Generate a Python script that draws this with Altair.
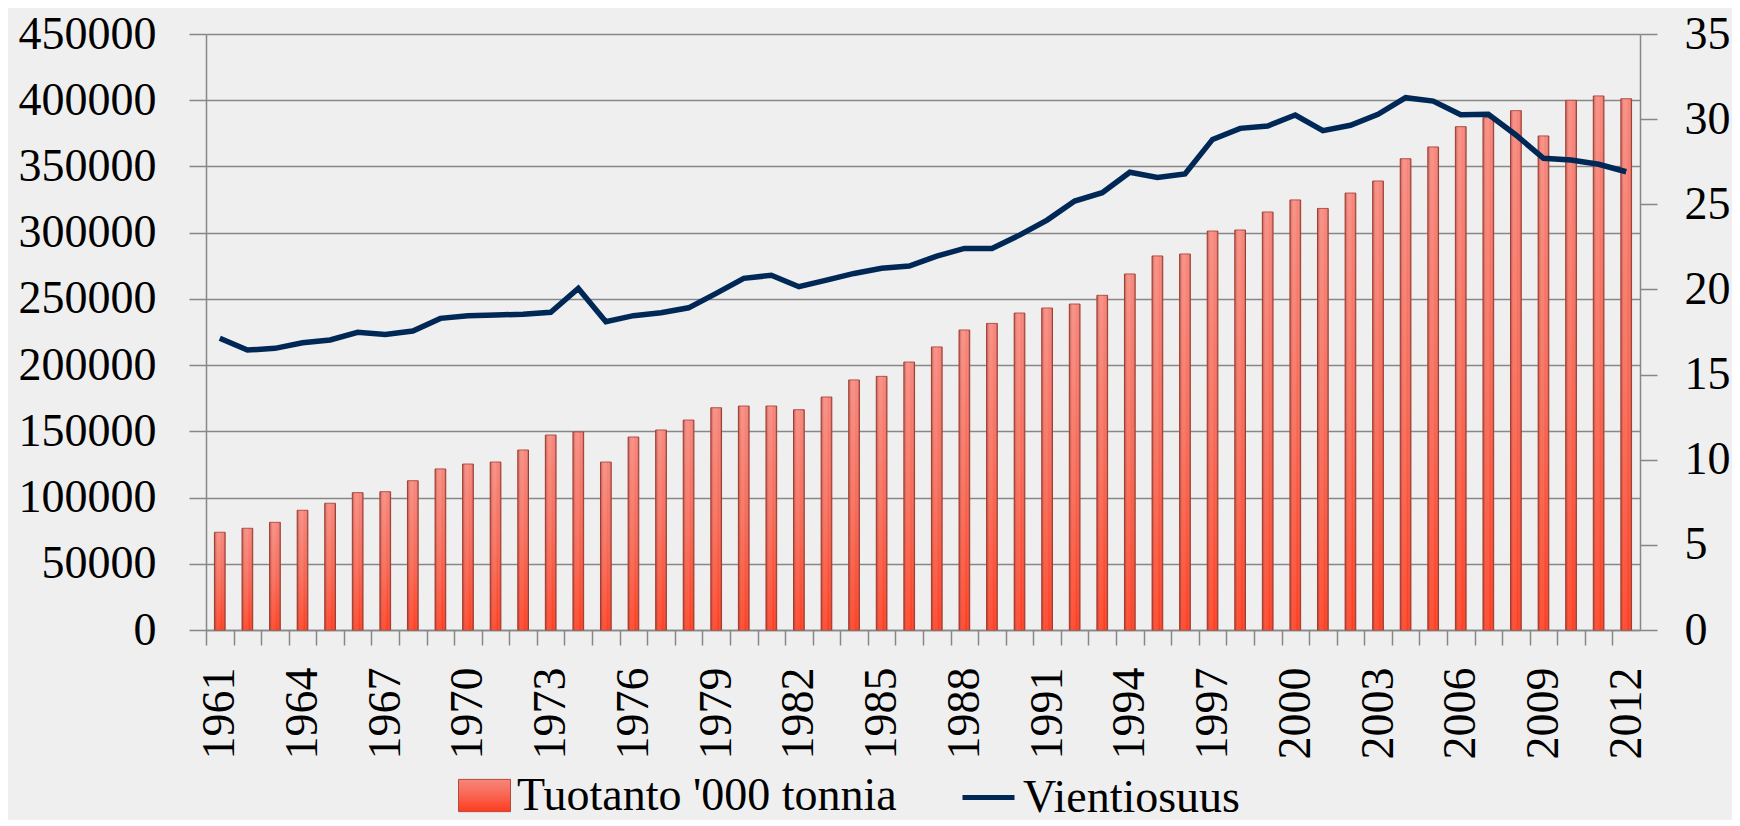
import altair as alt
import pandas as pd

# ---- data ----
years = list(range(1961, 2013))
tuotanto = [73800, 76800, 81300, 90400, 95700, 103700, 104400, 112700, 121600, 125300,
            126800, 135900, 147200, 149500, 126800, 145700, 151000, 158500, 167800, 169100,
            169100, 166300, 175900, 188800, 191500, 202300, 213700, 226500, 231500, 239300,
            243100, 246100, 252700, 268800, 282400, 283900, 301200, 302000, 315600, 324700,
            318300, 329900, 339000, 355800, 364700, 380000, 386800, 392100, 373000, 399900,
            403200, 401100]
vientiosuus = [17.13, 16.44, 16.54, 16.87, 17.03, 17.48, 17.36, 17.56, 18.30, 18.46,
               18.50, 18.54, 18.66, 20.06, 18.10, 18.46, 18.63, 18.92, 19.77, 20.65,
               20.83, 20.16, 20.55, 20.94, 21.24, 21.37, 21.96, 22.41, 22.41, 23.19,
               24.07, 25.19, 25.68, 26.88, 26.58, 26.78, 28.81, 29.46, 29.60, 30.24,
               29.32, 29.64, 30.28, 31.26, 31.06, 30.26, 30.28, 29.07, 27.70, 27.60,
               27.35, 26.91]
left_ticks = [0, 50000, 100000, 150000, 200000, 250000, 300000, 350000, 400000, 450000]
right_ticks = [0, 5, 10, 15, 20, 25, 30, 35]
bar_label = "Tuotanto '000 tonnia"
line_label = "Vientiosuus"

df = pd.DataFrame({
    "vuosi": years,
    "tuotanto": tuotanto,
    "vientiosuus": vientiosuus,
    "s1": [bar_label] * len(years),
    "s2": [line_label] * len(years),
})

FONT = "Liberation Serif"
FS = 46
GRID = "#878787"
W, H = 1434, 596
STEP = W / len(years)

x_scale = alt.Scale(paddingInner=0.61, paddingOuter=0.305)
x_axis = alt.Axis(
    title=None,
    labelExpr="(datum.value - 1961) % 3 == 0 ? datum.label : ''",
    labelAngle=270, labelOverlap=False,
    labelFont=FONT, labelFontSize=FS, labelColor="black", labelPadding=22,
    tickSize=15, tickColor=GRID, tickWidth=1.5,
    domainColor=GRID, domainWidth=1.5,
    tickOffset=-STEP / 2, labelOffset=STEP / 2,
    grid=False,
)
left_axis = alt.Axis(
    title=None, values=left_ticks, format="d", orient="left",
    grid=True, gridColor=GRID, gridWidth=1.5,
    domainColor=GRID, domainWidth=1.5, tickColor=GRID, tickWidth=1.5, tickSize=17,
    labelFont=FONT, labelFontSize=FS, labelColor="black", labelPadding=33,
)
right_axis = alt.Axis(
    title=None, values=right_ticks, format="d", orient="right", grid=False,
    domainColor=GRID, domainWidth=1.5, tickColor=GRID, tickWidth=1.5, tickSize=17,
    labelFont=FONT, labelFontSize=FS, labelColor="black", labelPadding=27,
)

vert_grad = alt.Gradient(
    gradient="linear", x1=0, x2=0, y1=0, y2=1,
    stops=[alt.GradientStop(color="#F8857A", offset=0),
           alt.GradientStop(color="#F86652", offset=0.5),
           alt.GradientStop(color="#FF3A1C", offset=1)],
)
shade_grad = alt.Gradient(
    gradient="linear", x1=0, x2=1, y1=0, y2=0,
    stops=[alt.GradientStop(color="rgba(110,20,10,0.5)", offset=0),
           alt.GradientStop(color="rgba(255,255,255,0.10)", offset=0.35),
           alt.GradientStop(color="rgba(255,255,255,0.12)", offset=0.5),
           alt.GradientStop(color="rgba(255,255,255,0.0)", offset=0.7),
           alt.GradientStop(color="rgba(110,20,10,0.5)", offset=1)],
)

y_left = alt.Y("tuotanto:Q", scale=alt.Scale(domain=[0, 450000], nice=False), axis=left_axis)

bars = alt.Chart(df).mark_bar(fill=vert_grad, strokeWidth=1).encode(
    x=alt.X("vuosi:O", scale=x_scale, axis=x_axis),
    y=y_left,
    stroke=alt.Stroke(
        "s1:N",
        scale=alt.Scale(domain=[bar_label], range=["#B04A3E"]),
        legend=alt.Legend(
            title=None, orient="none", legendX=252, legendY=735,
            symbolType="M-1,-0.62H1V0.62H-1Z", symbolSize=2704,
            symbolFillColor="#F4553F", symbolStrokeWidth=1,
            labelFont=FONT, labelFontSize=FS, labelColor="black",
            labelLimit=0, labelOffset=6, padding=0,
        ),
    ),
)
shade = alt.Chart(df).mark_bar(fill=shade_grad).encode(
    x=alt.X("vuosi:O", scale=x_scale, axis=x_axis),
    y=y_left,
)

line = alt.Chart(df).mark_line(strokeWidth=5.5).encode(
    x=alt.X("vuosi:O", scale=x_scale, axis=x_axis),
    y=alt.Y("vientiosuus:Q", scale=alt.Scale(domain=[0, 35], nice=False), axis=right_axis),
    color=alt.Color(
        "s2:N",
        scale=alt.Scale(domain=[line_label], range=["#002856"]),
        legend=alt.Legend(
            title=None, orient="none", legendX=754, legendY=735,
            symbolType="stroke", symbolSize=2704, symbolStrokeWidth=5,
            labelFont=FONT, labelFontSize=FS, labelColor="black",
            labelLimit=0, labelOffset=6, padding=0,
        ),
    ),
)

chart = alt.layer(alt.layer(bars, shade), line).resolve_scale(
    y="independent"
).properties(
    width=W, height=H,
    padding={"left": 198, "top": 26, "right": 92, "bottom": 190},
    autosize=alt.AutoSizeParams(type="none"),
    background="#EFEFEF",
).configure_view(stroke=None)

chart.save("out.html", embed_options={"renderer": "svg", "actions": False})
